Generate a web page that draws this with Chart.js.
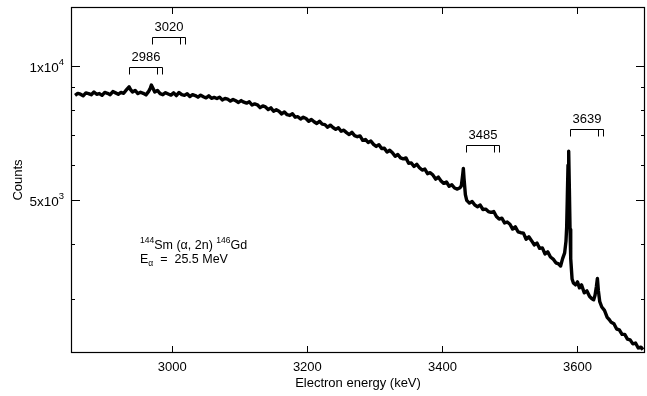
<!DOCTYPE html>
<html>
<head>
<meta charset="utf-8">
<script src="https://cdn.jsdelivr.net/npm/chart.js@4/dist/chart.umd.min.js"></script>
<style>
  html, body { margin: 0; padding: 0; background: #fff; }
  canvas { display: block; }
</style>
</head>
<body>
<canvas id="spectrum" width="647" height="396"></canvas>
<script>
// Electron energies (keV) and counts
const energyKeV = [
  2856, 2860, 2864, 2868, 2872, 2876, 2880, 2884, 2888, 2892, 2896, 2900, 2904, 2908, 2912, 2916, 2920, 2924, 2928, 2931,
  2934, 2936, 2938, 2941, 2945, 2949, 2953, 2957, 2961, 2965, 2967, 2969, 2971, 2974, 2978, 2982, 2986, 2990, 2994, 2998,
  3002, 3006, 3010, 3014, 3018, 3022, 3026, 3030, 3034, 3038, 3042, 3046, 3050, 3054, 3058, 3062, 3066, 3070, 3074, 3078,
  3082, 3086, 3090, 3094, 3098, 3102, 3106, 3110, 3114, 3118, 3122, 3126, 3130, 3134, 3138, 3142, 3146, 3150, 3154, 3158,
  3162, 3166, 3170, 3174, 3178, 3182, 3186, 3190, 3194, 3198, 3202, 3206, 3210, 3214, 3218, 3222, 3226, 3230, 3234, 3238,
  3242, 3246, 3250, 3254, 3258, 3262, 3266, 3270, 3274, 3278, 3282, 3286, 3290, 3294, 3298, 3302, 3306, 3310, 3314, 3318,
  3322, 3326, 3330, 3334, 3338, 3342, 3346, 3350, 3354, 3358, 3362, 3366, 3370, 3374, 3378, 3382, 3386, 3390, 3394, 3398,
  3402, 3406, 3410, 3414, 3418, 3422, 3426, 3428, 3430, 3431, 3432, 3434, 3436, 3440, 3444, 3448, 3452, 3456, 3460, 3464,
  3468, 3472, 3476, 3480, 3484, 3488, 3492, 3496, 3500, 3504, 3508, 3512, 3516, 3520, 3524, 3528, 3532, 3536, 3540, 3544,
  3548, 3552, 3556, 3560, 3564, 3568, 3572, 3575, 3578, 3581, 3583, 3584, 3585, 3586, 3587, 3588, 3589, 3590, 3592, 3594,
  3597, 3600, 3603, 3606, 3610, 3614, 3618, 3621, 3624, 3626, 3628, 3629.5, 3631, 3633, 3636, 3640, 3644, 3647, 3650, 3654,
  3658, 3662, 3666, 3670, 3674, 3678, 3682, 3686, 3690, 3694, 3697
];
const counts = [
  8610, 8700, 8660, 8590, 8720, 8690, 8640, 8760, 8660, 8690, 8610, 8740, 8700, 8640, 8780, 8720, 8660, 8740, 8700, 8820,
  8930, 9000, 8880, 8760, 8830, 8690, 8750, 8700, 8630, 8790, 8900, 9080, 8950, 8760, 8830, 8690, 8640, 8730, 8670, 8620,
  8720, 8600, 8740, 8640, 8610, 8680, 8560, 8640, 8600, 8530, 8620, 8550, 8500, 8590, 8480, 8520, 8470, 8530, 8410, 8470,
  8440, 8360, 8430, 8370, 8300, 8380, 8310, 8270, 8330, 8190, 8240, 8200, 8080, 8150, 8110, 8000, 8070, 7930, 7990, 7930,
  7820, 7900, 7790, 7760, 7830, 7690, 7710, 7620, 7690, 7640, 7530, 7600, 7510, 7440, 7530, 7420, 7400, 7300, 7380, 7290,
  7220, 7280, 7150, 7190, 7100, 7030, 7110, 6990, 6950, 6980, 6820, 6850, 6750, 6800, 6680, 6610, 6670, 6540, 6550, 6420,
  6480, 6400, 6280, 6340, 6230, 6200, 6230, 6060, 6070, 5960, 6030, 5920, 5850, 5880, 5740, 5770, 5700, 5580, 5640, 5530,
  5460, 5500, 5380, 5420, 5330, 5300, 5340, 5390, 5700, 5900, 5600, 5150, 5000, 4930, 4970, 4880, 4840, 4880, 4770, 4780,
  4720, 4700, 4720, 4600, 4540, 4560, 4450, 4470, 4420, 4310, 4360, 4250, 4230, 4220, 4090, 4140, 4060, 3970, 4010, 3900,
  3910, 3790, 3830, 3730, 3690, 3620, 3600, 3560, 3700, 3810, 4050, 4350, 5100, 6000, 6450, 5300, 4300, 3700, 3330, 3260,
  3230, 3280, 3180, 3230, 3100, 3130, 3040, 3010, 2990, 3060, 3200, 3340, 3130, 2960, 2880, 2830, 2730, 2700, 2660, 2640,
  2570, 2560, 2500, 2500, 2440, 2430, 2380, 2390, 2330, 2340, 2310
];

const xTicks = [3000, 3200, 3400, 3600];
const yTicks = [3000, 4000, 5000, 6000, 7000, 8000, 9000, 10000];
const yLabelled = [5000, 10000];
const yLabelMantissa = ['5', '1'];
const yLabelExponent = ['3', '4'];

// transitions marked with K / L / M conversion brackets
const lineLabels = ['2986', '3020', '3485', '3639'];
const lineEnergies = [2986, 3020, 3485, 3639];
const bracketCounts = [9980, 11650, 6660, 7240];
const shellBinding = [50.2, 8.4, 1.9]; // Gd K, L, M (keV)

const FONT = '"Liberation Sans", Arial, Helvetica, sans-serif';

const framePlugin = {
  id: 'frame',
  afterDraw(chart) {
    const ctx = chart.ctx;
    const a = chart.chartArea;
    const xs = chart.scales.x, ys = chart.scales.y;
    ctx.save();
    ctx.strokeStyle = '#000';
    ctx.lineWidth = 1.2;
    ctx.strokeRect(a.left + 0.5, a.top + 0.5, a.right - a.left - 1, a.bottom - a.top - 1);

    // inward ticks
    ctx.lineWidth = 1;
    ctx.beginPath();
    xTicks.forEach(v => {
      const px = Math.round(xs.getPixelForValue(v)) + 0.5;
      ctx.moveTo(px, a.bottom); ctx.lineTo(px, a.bottom - 7);
      ctx.moveTo(px, a.top); ctx.lineTo(px, a.top + 7);
    });
    yTicks.forEach(v => {
      const py = Math.round(ys.getPixelForValue(v)) + 0.5;
      const len = yLabelled.includes(v) ? 9 : 4;
      ctx.moveTo(a.left, py); ctx.lineTo(a.left + len, py);
      ctx.moveTo(a.right, py); ctx.lineTo(a.right - len, py);
    });
    ctx.stroke();

    // y labels with superscript exponent
    ctx.fillStyle = '#000';
    ctx.textBaseline = 'middle';
    ctx.textAlign = 'left';
    yLabelled.forEach((v, i) => {
      const py = ys.getPixelForValue(v) + 1.5;
      ctx.font = '13.5px ' + FONT;
      const base = yLabelMantissa[i] + 'x10';
      const bw = ctx.measureText(base).width;
      ctx.font = '9.5px ' + FONT;
      const sw = ctx.measureText(yLabelExponent[i]).width;
      const right = a.left - 7;
      ctx.font = '13.5px ' + FONT;
      ctx.fillText(base, right - sw - bw, py);
      ctx.font = '9.5px ' + FONT;
      ctx.fillText(yLabelExponent[i], right - sw, py - 6);
    });

    // conversion-line brackets
    ctx.lineWidth = 1;
    ctx.textAlign = 'center';
    ctx.textBaseline = 'middle';
    lineEnergies.forEach((e, i) => {
      const py = Math.round(ys.getPixelForValue(bracketCounts[i])) + 0.5;
      const legs = shellBinding.map(b => Math.round(xs.getPixelForValue(e - b)) + 0.5);
      ctx.beginPath();
      ctx.moveTo(legs[0], py + 7); ctx.lineTo(legs[0], py); ctx.lineTo(legs[2], py); ctx.lineTo(legs[2], py + 7);
      ctx.moveTo(legs[1], py); ctx.lineTo(legs[1], py + 7);
      ctx.stroke();
      ctx.font = '13px ' + FONT;
      ctx.fillText(lineLabels[i], (legs[0] + legs[2]) / 2, py - 10);
    });

    // reaction text
    ctx.textAlign = 'left';
    ctx.textBaseline = 'alphabetic';
    let x = 140, y = 249;
    const run = (txt, size, dy) => {
      ctx.font = size + 'px ' + FONT;
      ctx.fillText(txt, x, y + dy);
      x += ctx.measureText(txt).width;
    };
    run('144', 8.5, -6);
    run('Sm (α, 2n) ', 12.5, 0);
    run('146', 8.5, -6);
    run('Gd', 12.5, 0);
    x = 140; y = 263;
    run('E', 12.5, 0);
    run('α', 8.5, 3);
    run('  =  25.5 MeV', 12.5, 0);
    ctx.restore();
  }
};

const points = energyKeV.map((e, i) => ({ x: e, y: counts[i] }));

new Chart(document.getElementById('spectrum'), {
  type: 'line',
  data: {
    datasets: [{
      data: points,
      borderColor: '#000',
      borderWidth: 3.4,
      borderJoinStyle: 'round',
      pointRadius: 0,
      tension: 0,
      fill: false
    }]
  },
  options: {
    responsive: false,
    animation: false,
    layout: { padding: { top: 7, right: 2, left: 0, bottom: 0 } },
    plugins: { legend: { display: false }, tooltip: { enabled: false } },
    scales: {
      x: {
        type: 'linear',
        min: 2850,
        max: 3700,
        afterBuildTicks: s => { s.ticks = xTicks.map(v => ({ value: v })); },
        afterFit: s => { s.height = 43; },
        grid: { display: false, drawTicks: false },
        border: { display: false },
        ticks: { color: '#000', padding: 7, font: { family: FONT, size: 13 }, callback: v => String(v) },
        title: { display: true, text: 'Electron energy (keV)', color: '#000', padding: { top: 0, bottom: 5 }, font: { family: FONT, size: 13 } }
      },
      y: {
        type: 'logarithmic',
        min: 2270,
        max: 13600,
        afterBuildTicks: s => { s.ticks = yTicks.map(v => ({ value: v })); },
        afterFit: s => { s.width = 71; },
        grid: { display: false, drawTicks: false },
        border: { display: false },
        ticks: { display: false },
        title: { display: true, text: 'Counts', color: '#000', padding: { top: 11, bottom: 0 }, font: { family: FONT, size: 13 } }
      }
    }
  },
  plugins: [framePlugin]
});
</script>
</body>
</html>
